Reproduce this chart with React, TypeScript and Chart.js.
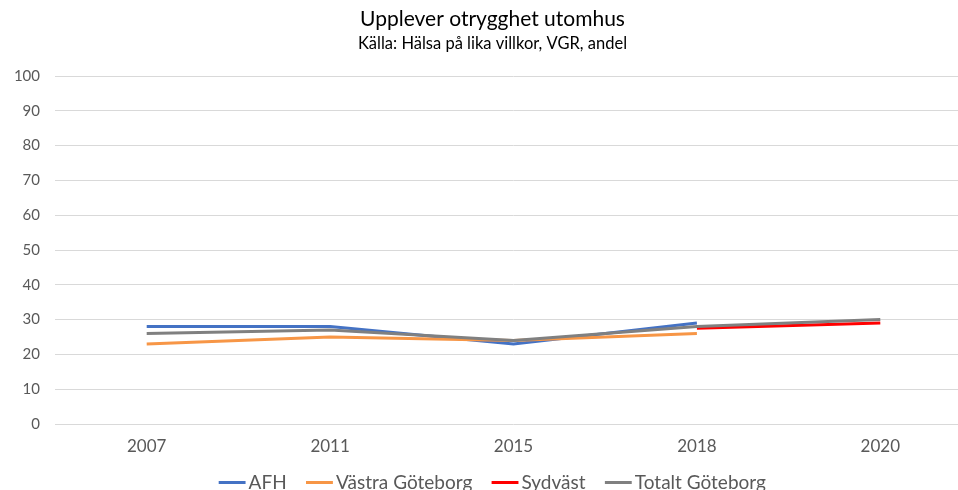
import React, { useEffect, useRef } from "react";
import { Chart, registerables } from "chart.js";

Chart.register(...registerables);

const years = ["2007", "2011", "2015", "2018", "2020"];
const afh = [28, 28, 23, 29, null];
const vastraGoteborg = [23, 25, 24, 26, null];
const sydvast = [null, null, null, 27.5, 29];
const totaltGoteborg = [26, 27, 24, 28, 30];
const yTicks = [0, 10, 20, 30, 40, 50, 60, 70, 80, 90, 100];

const FONT = "Lato, 'Open Sans', sans-serif";

// Recentre the title, subtitle and legend blocks (they are laid out over the full canvas width)
const recentre = {
  id: "recentre",
  afterLayout(chart: any) {
    for (const b of chart.boxes) {
      if (b.axis) continue;
      if (b.position === "bottom") b.left += 19;
      else if (b.position === "top") b.left += 13;
    }
  },
};

export default function App() {
  const ref = useRef<HTMLCanvasElement | null>(null);

  useEffect(() => {
    if (!ref.current) return;
    const mk = (label: string, data: (number | null)[], color: string, order: number) => ({
      label,
      data,
      order,
      borderColor: color,
      backgroundColor: color,
      borderWidth: 3,
      pointRadius: 0,
      pointHoverRadius: 0,
      pointStyle: "line",
      tension: 0,
      spanGaps: false,
    });
    const defaultLabels = (Chart.defaults as any).plugins.legend.labels.generateLabels;
    const chart = new Chart(ref.current, {
      type: "line",
      data: {
        labels: years,
        datasets: [
          mk("AFH", afh, "#4472C4", 4),
          mk("Västra Göteborg", vastraGoteborg, "#F79646", 3),
          mk("Sydväst", sydvast, "#FF0000", 2),
          mk("Totalt Göteborg", totaltGoteborg, "#808080", 1),
        ],
      },
      plugins: [recentre],
      options: {
        responsive: false,
        animation: false,
        devicePixelRatio: 1,
        layout: { padding: { left: 0, right: 12, top: 0, bottom: 0 } },
        plugins: {
          title: {
            display: true,
            text: "Upplever otrygghet utomhus",
            color: "#000000",
            font: { family: FONT, size: 21, weight: "normal" },
            padding: { top: 7, bottom: 2 },
          },
          subtitle: {
            display: true,
            text: "Källa: Hälsa på lika villkor, VGR, andel",
            color: "#000000",
            font: { family: FONT, size: 16.5, weight: "normal" },
            padding: { top: 0, bottom: 22 },
          },
          legend: {
            position: "bottom",
            labels: {
              usePointStyle: true,
              pointStyle: "line",
              boxWidth: 14,
              boxHeight: 19,
              padding: 16,
              color: "#595959",
              font: { family: FONT, size: 19 },
              generateLabels: (c: any) =>
                defaultLabels(c)
                  .sort((a: any, b: any) => a.datasetIndex - b.datasetIndex)
                  .map((item: any) => ({
                    ...item,
                    text: item.datasetIndex < 3 ? item.text + "  " : item.text,
                  })),
              sort: (a: any, b: any) => a.datasetIndex - b.datasetIndex,
            },
          },
          tooltip: { enabled: false },
        },
        scales: {
          x: {
            offset: true,
            grid: { display: false, drawTicks: false },
            border: { display: false },
            afterFit: (scale: any) => {
              scale.height = 33;
            },
            ticks: {
              color: "#595959",
              font: { family: FONT, size: 17 },
              padding: 12,
              maxRotation: 0,
            },
          },
          y: {
            min: 0,
            max: 100,
            afterBuildTicks: (scale: any) => {
              scale.ticks = yTicks.map((v) => ({ value: v }));
            },
            afterFit: (scale: any) => {
              scale.width = 55;
            },
            grid: { color: "#D9D9D9", lineWidth: 1, drawTicks: false },
            border: { display: false },
            ticks: {
              color: "#595959",
              font: { family: FONT, size: 15 },
              padding: 15,
            },
          },
        },
      },
    });
    return () => chart.destroy();
  }, []);

  return (
    <div
      style={{
        position: "fixed",
        left: 0,
        top: 0,
        width: 958,
        height: 490,
        overflow: "hidden",
        background: "#ffffff",
      }}
    >
      <canvas ref={ref} width={984} height={502} style={{ width: 984, height: 502, display: "block" }} />
    </div>
  );
}
